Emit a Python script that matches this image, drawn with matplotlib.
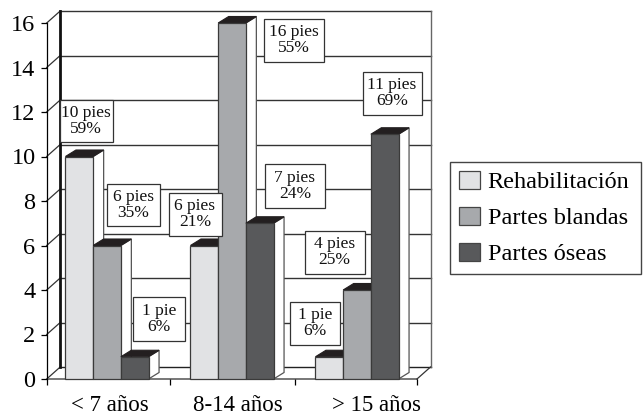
import matplotlib
matplotlib.use('Agg')
import matplotlib.pyplot as plt
from matplotlib.patches import Polygon, Rectangle
from matplotlib.transforms import Affine2D

plt.rcParams['font.family'] = ['Liberation Serif', 'DejaVu Serif']

W, H = 643, 416

# pies per age group
age_groups = ['< 7 años', '8-14 años', '> 15 años']
rehabilitacion = [10, 6, 1]
partes_blandas = [6, 16, 4]
partes_oseas = [1, 7, 11]
pct_rehabilitacion = [59, 21, 6]
pct_blandas = [35, 55, 25]
pct_oseas = [6, 24, 69]
y_ticks = [0, 2, 4, 6, 8, 10, 12, 14, 16]

series = [
    ('Rehabilitación', rehabilitacion, pct_rehabilitacion, '#e1e2e4'),
    ('Partes blandas', partes_blandas, pct_blandas, '#a7a9ac'),
    ('Partes óseas', partes_oseas, pct_oseas, '#58595b'),
]

# label boxes in pixels from the top left: left, top, right, bottom (series, then group)
boxes = [
    [(60, 99.5, 112.5, 142), (168.5, 193, 221.5, 236), (289.5, 301.5, 340, 345)],
    [(106.5, 183.5, 160, 226), (263.5, 18.5, 323.5, 61.5), (304.5, 230.5, 364.5, 273.5)],
    [(133, 297, 184.5, 340.5), (265, 163.5, 325, 207.5), (362.5, 71.5, 421.5, 114.5)],
]

LEFT, RIGHT, BOTTOM, TOP = 46.7, 417.0, 379.0, 16.0
PX_X = 125.0  # pixels per group
PX_Y = 22.25  # pixels per foot
X0 = (LEFT - 107.0) / PX_X
X1 = (RIGHT - 107.0) / PX_X
WALL_DX = 13.5 / PX_X
WALL_DY = 12.0 / PX_Y
BAR_W = 27.7 / PX_X
BAR_DX = 10.5 / PX_X
BAR_DY = 6.5 / PX_Y
EDGE = '#3a3a3a'
GRID = '#333333'

fig = plt.figure(figsize=(W / 100, H / 100), dpi=100)
ax = fig.add_axes([LEFT / W, 1 - BOTTOM / H, (RIGHT - LEFT) / W, (BOTTOM - TOP) / H])
ax.set_xlim(X0, X1)
ax.set_ylim(0, (BOTTOM - TOP) / PX_Y)
for name in ['top', 'right', 'bottom']:
    ax.spines[name].set_visible(False)
ax.spines['left'].set_bounds(0, 16)
ax.spines['left'].set_linewidth(0.9)
ax.patch.set_visible(False)

ax.set_yticks(y_ticks)
ax.tick_params(axis='y', labelsize=17.5, length=4, width=0.9, pad=4)
ax.set_xticks([X0, 0.5, 1.5, X1])
ax.set_xticklabels([])
ax.tick_params(axis='x', which='major', length=4.5, width=0.9)
ax.set_xticks([0.02, 1.05, 2.16], minor=True)
ax.set_xticklabels(age_groups, minor=True, fontsize=16.5)
ax.tick_params(axis='x', which='minor', length=0, pad=11.5)

# back wall, gridlines and floor
back_l, back_r = X0 + WALL_DX, X1 + WALL_DX
for v in y_ticks:
    ax.plot([X0, back_l], [v, v + WALL_DY], color=GRID, lw=0.9, clip_on=False, zorder=1)
    if v > 0:
        ax.plot([back_l, back_r], [v + WALL_DY, v + WALL_DY], color=GRID, lw=1.0,
                clip_on=False, zorder=1)
ax.plot([back_l, back_r], [WALL_DY, WALL_DY], color='#222222', lw=1.0, clip_on=False, zorder=1)
ax.plot([back_l, back_l], [WALL_DY, 16 + WALL_DY], color='#111111', lw=2.0, clip_on=False, zorder=1)
ax.plot([back_r, back_r], [WALL_DY, 16 + WALL_DY], color='#666666', lw=1.0, clip_on=False, zorder=1)
ax.plot([X0, X1], [0, 0], color='#777777', lw=1.4, clip_on=False, zorder=1)
ax.plot([X1, back_r], [0, WALL_DY], color='#333333', lw=0.9, clip_on=False, zorder=1)

# bars with their white side and black top
for s, (name, values, pcts, color) in enumerate(series):
    for g, v in enumerate(values):
        x = g + (s - 1.5) * BAR_W
        side = [(x + BAR_W, 0), (x + BAR_W + BAR_DX, BAR_DY),
                (x + BAR_W + BAR_DX, v + BAR_DY), (x + BAR_W, v)]
        top = [(x, v), (x + BAR_DX, v + BAR_DY), (x + BAR_W + BAR_DX, v + BAR_DY), (x + BAR_W, v)]
        ax.add_patch(Polygon(side, fc='white', ec='#555555', lw=0.9, zorder=3 + s, clip_on=False))
        ax.add_patch(Polygon(top, fc='#231f20', ec='#231f20', lw=0.8, zorder=3 + s, clip_on=False))
        ax.bar(x, v, BAR_W, align='edge', color=color, edgecolor=EDGE, lw=0.9, zorder=3 + s,
               clip_on=False)

# value boxes, laid out in pixels
to_px = Affine2D().scale(1, -1).translate(0, H)
for s, (name, values, pcts, color) in enumerate(series):
    for g, v in enumerate(values):
        l, t, r, b = boxes[s][g]
        fig.add_artist(Rectangle((l, t), r - l, b - t, fc='white', ec='#333333', lw=0.9,
                                 transform=to_px, zorder=10))
        unit = 'pie' if v == 1 else 'pies'
        fig.text((l + r) / 2, (t + b) / 2, f'{v} {unit}\n{pcts[g]}%', transform=to_px,
                 ha='center', va='center', fontsize=12.5, linespacing=1.0, color='#111111', zorder=11)

# legend
handles = [Rectangle((0, 0), 1, 1, fc=c, ec='#444444', lw=0.9) for _, _, _, c in series]
leg = fig.legend(handles, [s[0] for s in series], loc='upper left',
                 bbox_to_anchor=(450 / W, 1 - 278 / H, 191 / W, 116 / H), mode='expand',
                 borderaxespad=0, fontsize=17.5, frameon=True, fancybox=False, framealpha=1,
                 edgecolor='#444444', handlelength=0.9, handleheight=0.8, handletextpad=0.3,
                 labelspacing=0.55, borderpad=0.35)
leg.get_frame().set_linewidth(1.0)

plt.savefig('out.png', dpi=100)
